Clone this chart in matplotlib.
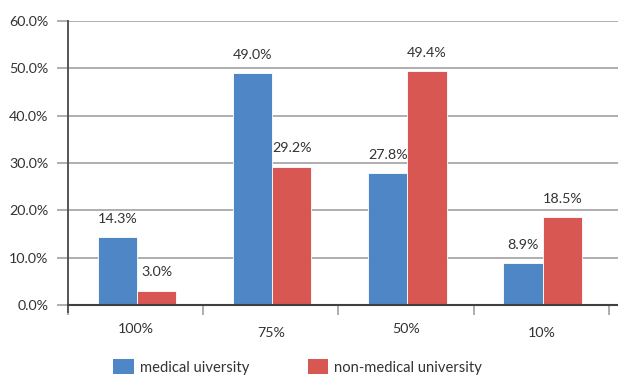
import matplotlib
matplotlib.use("Agg")
import matplotlib.pyplot as plt
from matplotlib.patches import Patch

categories = ["100%", "75%", "50%", "10%"]
medical = [14.3, 49.0, 27.8, 8.9]
non_medical = [3.0, 29.2, 49.4, 18.5]
series_names = ["medical uiversity", "non-medical university"]
yticks = [0, 10, 20, 30, 40, 50, 60]

blue = "#4f86c6"
red = "#d85752"
txt = "#333333"
plt.rcParams['font.family'] = ['Lato', 'DejaVu Sans']

fig = plt.figure(figsize=(6.18, 3.76), dpi=100)
ax = fig.add_axes([68/618, 71/376, 550/618, 284/376])

x = list(range(len(categories)))
w = 0.29
ax.bar([i - 0.135 for i in x], medical, width=w, color=blue, edgecolor="white", linewidth=0.6, zorder=3)
ax.bar([i + 0.155 for i in x], non_medical, width=w, color=red, edgecolor="white", linewidth=0.6, zorder=3)

for i in x:
    ax.text(i - 0.135, medical[i] + 2.6, f"{medical[i]:.1f}%", ha="center", va="bottom", fontsize=10.3, color=txt)
    ax.text(i + 0.155, non_medical[i] + 2.6, f"{non_medical[i]:.1f}%", ha="center", va="bottom", fontsize=10.3, color=txt)

ax.set_xlim(-0.5, 3.5 + 9/135)
ax.set_ylim(0, 60)
ax.set_yticks(yticks)
ax.set_yticklabels([f"{v:.1f}%" for v in yticks], fontsize=10.3, color=txt)
ax.yaxis.grid(True, color="#a8a8a8", linewidth=1.3, zorder=0)
ax.set_axisbelow(True)
ax.tick_params(axis="y", length=8, color="#a8a8a8", width=1.3, pad=6)

ax.set_xticks([-0.5, 0.5, 1.5, 2.5, 3.5])
ax.set_xticklabels([])
ax.tick_params(axis="x", length=7, color="#a0a0a0", width=1.2)
for i, c in enumerate(categories):
    ax.text(i, -3.8 - (0.8 if i % 2 else 0), c, ha="center", va="top", fontsize=10.3, color=txt)

for s in ["top", "right"]:
    ax.spines[s].set_visible(False)
ax.spines["left"].set_color("#555555")
ax.spines["left"].set_linewidth(1.4)
ax.spines["left"].set_bounds(-1.5, 60)
ax.spines["bottom"].set_color("#404040")
ax.spines["bottom"].set_linewidth(1.5)
ax.spines["bottom"].set_zorder(4)

handles = [Patch(facecolor=blue), Patch(facecolor=red)]
fig.legend(handles, series_names, loc="center left", bbox_to_anchor=(113/618, 1 - 367/376),
           ncol=2, frameon=False, fontsize=10.6, handlelength=1.4, handleheight=1.2,
           handletextpad=0.4, columnspacing=4.0, borderpad=0, borderaxespad=0,
           labelcolor=txt)

fig.savefig("out.png", dpi=100)
